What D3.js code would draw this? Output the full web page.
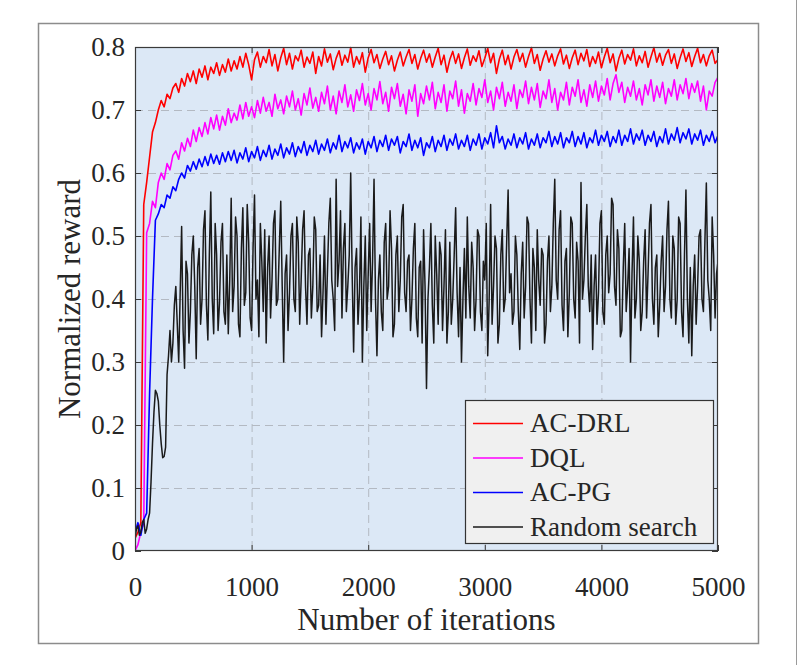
<!DOCTYPE html>
<html>
<head>
<meta charset="utf-8">
<title>Normalized reward</title>
<script src="https://cdn.jsdelivr.net/npm/d3@7"></script>
<style>
  body { margin: 0; background: #fff; }
  svg { display: block; }
  text { font-family: "Liberation Serif", "Times New Roman", serif; fill: #262626; }
</style>
</head>
<body>
<script>

// learning curves sampled every 25 iterations, random search every 12.5
var iterations = d3.range(0, 5001, 25);
var rsIterations = d3.range(0, 5001, 12.5);

var acDrl = [
  0.020,0.030,0.045,0.550,0.585,0.625,0.665,0.680,0.700,0.715,
  0.705,0.725,0.718,0.735,0.742,0.728,0.750,0.738,0.758,0.745,
  0.762,0.742,0.765,0.752,0.770,0.748,0.768,0.758,0.775,0.755,
  0.772,0.760,0.781,0.762,0.778,0.765,0.785,0.768,0.790,0.772,
  0.748,0.780,0.792,0.768,0.785,0.775,0.796,0.770,0.788,0.762,
  0.783,0.798,0.772,0.790,0.765,0.786,0.778,0.795,0.768,0.784,
  0.774,0.792,0.758,0.785,0.770,0.797,0.776,0.789,0.764,0.782,
  0.794,0.771,0.787,0.776,0.799,0.768,0.785,0.773,0.791,0.760,
  0.783,0.796,0.775,0.788,0.766,0.781,0.793,0.772,0.786,0.762,
  0.779,0.792,0.770,0.784,0.796,0.774,0.788,0.765,0.782,0.795,
  0.776,0.789,0.768,0.784,0.798,0.772,0.787,0.760,0.780,0.793,
  0.774,0.789,0.766,0.783,0.797,0.771,0.786,0.777,0.794,0.769,
  0.782,0.798,0.775,0.790,0.758,0.781,0.795,0.772,0.787,0.765,
  0.784,0.796,0.777,0.790,0.768,0.785,0.799,0.774,0.788,0.763,
  0.781,0.794,0.776,0.789,0.770,0.786,0.797,0.773,0.787,0.766,
  0.783,0.795,0.772,0.790,0.778,0.796,0.769,0.785,0.774,0.792,
  0.767,0.784,0.798,0.775,0.789,0.762,0.782,0.795,0.773,0.788,
  0.779,0.797,0.770,0.786,0.775,0.793,0.768,0.784,0.799,0.776,
  0.790,0.771,0.787,0.796,0.774,0.789,0.766,0.783,0.797,0.777,
  0.791,0.769,0.785,0.798,0.775,0.788,0.770,0.786,0.795,0.774,
  0.780
];

var dql = [
  0.000,0.010,0.030,0.045,0.505,0.520,0.555,0.545,0.585,0.600,
  0.590,0.615,0.605,0.628,0.635,0.622,0.648,0.635,0.655,0.642,
  0.668,0.650,0.672,0.658,0.680,0.662,0.688,0.670,0.692,0.668,
  0.690,0.676,0.702,0.680,0.695,0.684,0.708,0.686,0.712,0.690,
  0.705,0.688,0.715,0.695,0.720,0.698,0.712,0.690,0.725,0.702,
  0.716,0.694,0.722,0.705,0.730,0.700,0.718,0.692,0.726,0.708,
  0.735,0.703,0.720,0.698,0.728,0.710,0.738,0.700,0.722,0.694,
  0.730,0.712,0.740,0.705,0.724,0.698,0.732,0.715,0.742,0.708,
  0.726,0.700,0.734,0.716,0.745,0.710,0.728,0.698,0.736,0.718,
  0.742,0.706,0.725,0.694,0.732,0.714,0.740,0.690,0.726,0.710,
  0.738,0.716,0.744,0.702,0.728,0.712,0.740,0.698,0.730,0.718,
  0.746,0.706,0.732,0.695,0.726,0.714,0.742,0.708,0.734,0.720,
  0.748,0.712,0.730,0.700,0.736,0.718,0.744,0.706,0.728,0.714,
  0.740,0.702,0.732,0.720,0.746,0.710,0.736,0.716,0.742,0.704,
  0.730,0.718,0.748,0.712,0.734,0.700,0.728,0.716,0.744,0.708,
  0.736,0.722,0.748,0.712,0.732,0.706,0.740,0.720,0.746,0.714,
  0.738,0.724,0.750,0.716,0.742,0.756,0.728,0.744,0.712,0.736,
  0.722,0.746,0.716,0.734,0.708,0.740,0.724,0.748,0.714,0.738,
  0.720,0.744,0.710,0.734,0.722,0.748,0.716,0.740,0.726,0.750,
  0.718,0.742,0.728,0.746,0.714,0.738,0.700,0.730,0.722,0.744,
  0.752
];

var acPg = [
  0.030,0.045,0.025,0.050,0.060,0.250,0.400,0.525,0.535,0.550,
  0.545,0.565,0.560,0.578,0.572,0.590,0.600,0.592,0.612,0.603,
  0.618,0.606,0.622,0.610,0.626,0.612,0.630,0.615,0.628,0.614,
  0.632,0.618,0.634,0.620,0.636,0.616,0.632,0.622,0.640,0.618,
  0.634,0.624,0.642,0.620,0.636,0.626,0.644,0.622,0.638,0.628,
  0.646,0.624,0.640,0.630,0.648,0.626,0.642,0.632,0.650,0.628,
  0.644,0.634,0.652,0.630,0.646,0.636,0.654,0.632,0.648,0.638,
  0.660,0.634,0.650,0.640,0.656,0.632,0.648,0.638,0.654,0.630,
  0.650,0.640,0.658,0.634,0.652,0.642,0.660,0.636,0.654,0.644,
  0.658,0.632,0.650,0.642,0.662,0.636,0.652,0.640,0.656,0.628,
  0.648,0.640,0.658,0.634,0.652,0.642,0.660,0.636,0.654,0.644,
  0.662,0.638,0.652,0.642,0.660,0.636,0.654,0.644,0.662,0.638,
  0.656,0.646,0.664,0.640,0.675,0.648,0.658,0.638,0.654,0.644,
  0.662,0.640,0.656,0.646,0.664,0.638,0.654,0.644,0.662,0.640,
  0.656,0.648,0.666,0.642,0.658,0.646,0.664,0.640,0.656,0.648,
  0.666,0.642,0.658,0.646,0.664,0.640,0.656,0.648,0.668,0.644,
  0.660,0.650,0.666,0.642,0.658,0.648,0.668,0.644,0.660,0.650,
  0.670,0.646,0.662,0.652,0.668,0.644,0.660,0.650,0.666,0.642,
  0.658,0.648,0.670,0.646,0.662,0.652,0.672,0.648,0.664,0.654,
  0.670,0.646,0.662,0.652,0.668,0.644,0.660,0.650,0.666,0.648,
  0.660
];

var randomSearch = [
  0.020,0.035,0.040,0.025,0.030,0.045,0.050,0.028,0.035,0.050,
  0.060,0.110,0.170,0.220,0.255,0.250,0.238,0.200,0.170,0.148,
  0.150,0.165,0.280,0.310,0.350,0.300,0.330,0.390,0.420,0.360,
  0.300,0.410,0.515,0.350,0.290,0.460,0.440,0.330,0.380,0.470,
  0.500,0.420,0.305,0.450,0.480,0.360,0.400,0.510,0.540,0.390,
  0.335,0.470,0.570,0.400,0.345,0.520,0.470,0.350,0.395,0.490,
  0.520,0.380,0.360,0.470,0.345,0.430,0.560,0.380,0.420,0.530,
  0.500,0.360,0.340,0.480,0.545,0.390,0.410,0.550,0.490,0.370,
  0.350,0.480,0.565,0.400,0.430,0.340,0.520,0.460,0.380,0.510,
  0.330,0.450,0.500,0.370,0.430,0.520,0.540,0.390,0.400,0.480,
  0.555,0.420,0.300,0.440,0.470,0.350,0.410,0.500,0.520,0.400,
  0.380,0.530,0.490,0.360,0.430,0.510,0.540,0.420,0.360,0.470,
  0.480,0.370,0.420,0.530,0.510,0.380,0.390,0.470,0.340,0.410,
  0.500,0.360,0.440,0.520,0.560,0.430,0.400,0.350,0.590,0.420,
  0.460,0.540,0.370,0.480,0.520,0.380,0.420,0.470,0.600,0.440,
  0.316,0.450,0.480,0.360,0.410,0.530,0.300,0.420,0.500,0.350,
  0.440,0.520,0.380,0.460,0.590,0.400,0.310,0.430,0.470,0.380,
  0.350,0.490,0.520,0.400,0.420,0.540,0.480,0.340,0.360,0.470,
  0.500,0.380,0.430,0.530,0.550,0.410,0.380,0.460,0.470,0.350,
  0.400,0.480,0.520,0.370,0.340,0.450,0.460,0.330,0.510,0.420,
  0.258,0.400,0.450,0.520,0.390,0.330,0.500,0.440,0.360,0.490,
  0.470,0.350,0.420,0.510,0.330,0.380,0.490,0.360,0.400,0.470,
  0.545,0.410,0.340,0.450,0.300,0.400,0.480,0.370,0.530,0.420,
  0.370,0.490,0.450,0.350,0.400,0.510,0.500,0.380,0.350,0.460,
  0.430,0.520,0.310,0.400,0.550,0.360,0.420,0.500,0.480,0.330,
  0.360,0.470,0.510,0.380,0.400,0.490,0.573,0.410,0.440,0.360,
  0.380,0.500,0.470,0.380,0.320,0.440,0.490,0.370,0.420,0.530,
  0.520,0.400,0.330,0.480,0.450,0.350,0.510,0.430,0.390,0.480,
  0.470,0.330,0.360,0.460,0.500,0.380,0.420,0.520,0.590,0.430,
  0.400,0.510,0.540,0.390,0.350,0.460,0.480,0.340,0.410,0.530,
  0.520,0.400,0.370,0.490,0.460,0.330,0.585,0.400,0.430,0.500,
  0.550,0.420,0.380,0.470,0.320,0.420,0.470,0.360,0.410,0.520,
  0.540,0.380,0.360,0.470,0.500,0.410,0.440,0.560,0.550,0.420,
  0.390,0.510,0.480,0.340,0.350,0.450,0.520,0.380,0.420,0.480,
  0.300,0.440,0.530,0.370,0.400,0.500,0.460,0.350,0.380,0.460,
  0.510,0.370,0.440,0.520,0.550,0.400,0.360,0.450,0.470,0.340,
  0.390,0.460,0.500,0.380,0.420,0.510,0.555,0.400,0.370,0.500,
  0.480,0.360,0.400,0.530,0.520,0.380,0.340,0.470,0.573,0.400,
  0.330,0.450,0.310,0.420,0.470,0.360,0.420,0.500,0.510,0.400,
  0.380,0.490,0.584,0.430,0.400,0.350,0.530,0.470,0.370,0.440,
  0.460
];

var seriesNames = ["AC-DRL", "DQL", "AC-PG", "Random search"];
var seriesColors = ["#ff0000", "#ff00ff", "#0000ff", "#1a1a1a"];
var seriesValues = [acDrl, dql, acPg, randomSearch];
var seriesIters = [iterations, iterations, iterations, rsIterations];

var xTicks = [0, 1000, 2000, 3000, 4000, 5000];
var yTicks = [0, 0.1, 0.2, 0.3, 0.4, 0.5, 0.6, 0.7, 0.8];

var W = 798, H = 665;
var box = { left: 135, right: 718, top: 47, bottom: 551 };

var x = d3.scaleLinear().domain([0, 5000]).range([box.left, box.right]);
var y = d3.scaleLinear().domain([0, 0.8]).range([box.bottom, box.top]);

var svg = d3.select('body').append('svg')
  .attr('width', W)
  .attr('height', H);

// figure frame
svg.append('rect')
  .attr('x', 38.5).attr('y', 23.5)
  .attr('width', 720).attr('height', 620)
  .attr('fill', 'none')
  .attr('stroke', '#8c8c8c')
  .attr('stroke-width', 1.5);

svg.append('line')
  .attr('x1', 796.5).attr('x2', 796.5)
  .attr('y1', 0).attr('y2', H)
  .attr('stroke', '#9a9a9a');

// plot background
svg.append('rect')
  .attr('x', box.left).attr('y', box.top)
  .attr('width', box.right - box.left)
  .attr('height', box.bottom - box.top)
  .attr('fill', '#dce8f6');

svg.append('clipPath').attr('id', 'clip')
  .append('rect')
  .attr('x', box.left).attr('y', box.top - 1)
  .attr('width', box.right - box.left)
  .attr('height', box.bottom - box.top + 1);

// grid
var grid = svg.append('g')
  .attr('stroke', '#b3b9c2')
  .attr('stroke-width', 1)
  .attr('stroke-dasharray', '8,5');

grid.selectAll('line.vx').data(xTicks.slice(1, -1))
  .enter().append('line')
  .attr('x1', function(d) { return x(d) + 0.5 })
  .attr('x2', function(d) { return x(d) + 0.5 })
  .attr('y1', box.top)
  .attr('y2', box.bottom);

grid.selectAll('line.hy').data(yTicks.slice(1, -1))
  .enter().append('line')
  .attr('y1', function(d) { return Math.round(y(d)) + 0.5 })
  .attr('y2', function(d) { return Math.round(y(d)) + 0.5 })
  .attr('x1', box.left)
  .attr('x2', box.right);

// series
function seriesPath(values, k) {
  var its = seriesIters[k];
  return d3.line()
    .x(function(d, i) { return x(its[i]) })
    .y(function(d) { return y(d) })(values);
}

svg.append('g').attr('clip-path', 'url(#clip)')
  .selectAll('path').data(seriesValues)
  .enter().append('path')
  .attr('d', seriesPath)
  .attr('fill', 'none')
  .attr('stroke', function(d, i) { return seriesColors[i] })
  .attr('stroke-width', function(d, i) { return i == 3 ? 1.5 : 1.6 })
  .attr('stroke-linejoin', 'round');

// axes
function styleAxis(g) {
  g.select('.domain').remove();
  g.selectAll('.tick line').attr('stroke', '#3a3a3a');
  g.selectAll('.tick text')
    .attr('font-family', '"Liberation Serif", "Times New Roman", serif')
    .attr('fill', '#262626');
}

svg.append('g')
  .attr('transform', 'translate(0,' + box.bottom + ')')
  .call(d3.axisBottom(x).tickValues(xTicks).tickSize(-6).tickPadding(26)
    .tickFormat(function(d) { return d }))
  .call(styleAxis)
  .selectAll('.tick text').attr('font-size', 27);

svg.append('g')
  .attr('transform', 'translate(0,' + box.top + ')')
  .call(d3.axisTop(x).tickValues(xTicks).tickSize(-6).tickFormat(''))
  .call(styleAxis);

svg.append('g')
  .attr('transform', 'translate(' + box.left + ',0)')
  .call(d3.axisLeft(y).tickValues(yTicks).tickSize(-6).tickPadding(10)
    .tickFormat(function(d) { return String(d) }))
  .call(styleAxis)
  .selectAll('.tick text').attr('font-size', 27);

svg.append('g')
  .attr('transform', 'translate(' + box.right + ',0)')
  .call(d3.axisRight(y).tickValues(yTicks).tickSize(-6).tickFormat(''))
  .call(styleAxis);

// axes box
svg.append('rect')
  .attr('x', box.left + 0.5).attr('y', box.top + 0.5)
  .attr('width', box.right - box.left - 1)
  .attr('height', box.bottom - box.top - 1)
  .attr('fill', 'none')
  .attr('stroke', '#3a3a3a')
  .attr('stroke-width', 1.2);

// axis titles
svg.append('text')
  .attr('x', (box.left + box.right) / 2)
  .attr('y', 630)
  .attr('text-anchor', 'middle')
  .attr('font-size', 31)
  .text('Number of iterations');

svg.append('text')
  .attr('transform', 'translate(80,' + ((box.top + box.bottom) / 2) + ') rotate(-90)')
  .attr('text-anchor', 'middle')
  .attr('font-size', 31)
  .text('Normalized reward');

// legend
var legend = svg.append('g').attr('transform', 'translate(465,400)');

legend.append('rect')
  .attr('x', 0.5).attr('y', 0.5)
  .attr('width', 248).attr('height', 143)
  .attr('fill', '#f0f0f0')
  .attr('stroke', '#333')
  .attr('stroke-width', 1.2);

var rows = legend.selectAll('g.row').data(seriesNames)
  .enter().append('g')
  .attr('class', 'row')
  .attr('transform', function(d, i) { return 'translate(0,' + (23 + i * 34.5) + ')' });

rows.append('line')
  .attr('x1', 8).attr('x2', 58)
  .attr('y1', 0.5).attr('y2', 0.5)
  .attr('stroke', function(d) { return seriesColors[seriesNames.indexOf(d)] })
  .attr('stroke-width', 1.4);

rows.append('text')
  .attr('x', 65)
  .attr('dy', '0.34em')
  .attr('font-size', 27)
  .text(function(d) { return d });

</script>
</body>
</html>
